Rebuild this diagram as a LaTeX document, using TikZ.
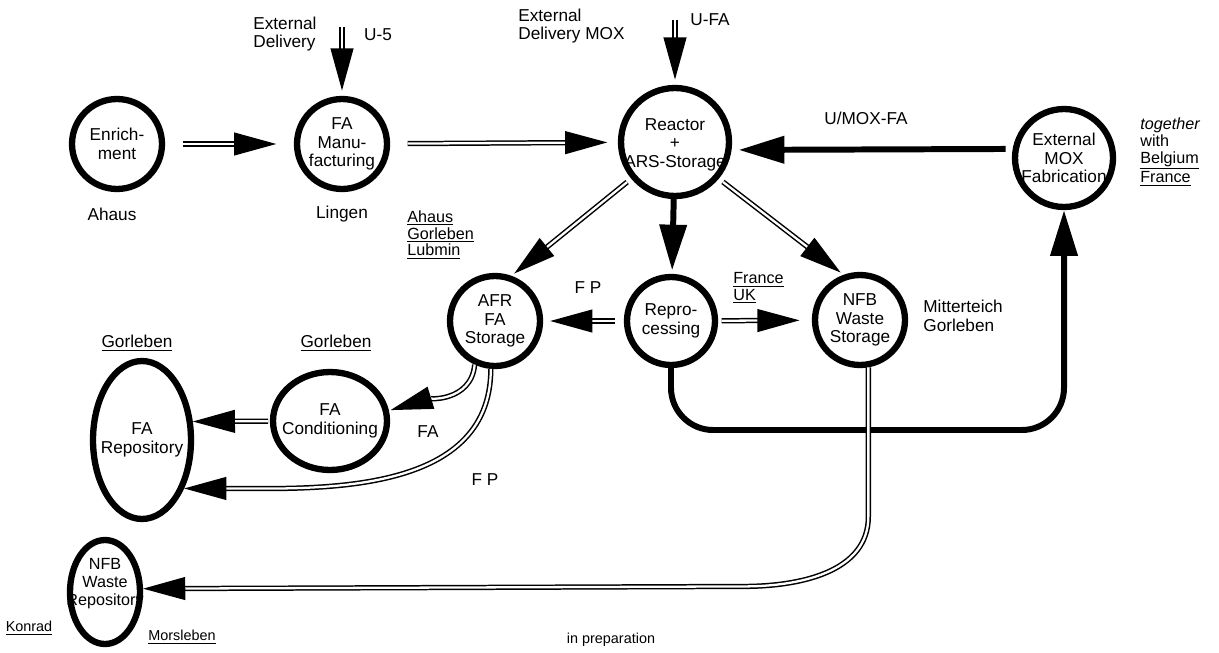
\documentclass[tikz,border=0pt]{standalone}
\usepackage{fontspec}
\setmainfont{Liberation Sans}
\usetikzlibrary{arrows.meta,shapes.geometric}

\begin{document}
\begin{tikzpicture}[x=0.02cm,y=-0.02cm]
\tikzstyle{every node}+=[inner sep=0pt, font=\fontsize{9.8}{10.6}\selectfont]
\tikzstyle{every label}+=[align=center]
\tikzstyle{station}=[circle, draw, line width=3.6pt]
\tikzstyle{pool}=[ellipse, draw, line width=3.6pt]
\tikzstyle{small}=[font=\fontsize{8.2}{9}\selectfont]
\tikzstyle{dbl}=[double, line width=0.85pt, double distance=1.3pt, -{Triangle[length=24pt,width=13pt]}]
\tikzstyle{heavy}=[line width=3.4pt, -{Triangle[length=26pt,width=15pt]}]
\useasboundingbox (0,0) rectangle (1219,652);

\node[station, minimum size=1.8cm, label=center:{Enrich-\\ment}] (enrich) at (117,144) {};
\node[station, minimum size=1.8cm, label=center:{FA\\Manu-\\facturing}] (fam) at (342,144) {};
\node[station, minimum size=2.16cm, label={[yshift=-1.5pt]center:{Reactor\\+\\ARS-Storage}}] (reactor) at (675,142) {};
\node[station, minimum size=1.96cm, label=center:{External\\MOX\\Fabrication}] (mox) at (1064,158) {};
\node[station, minimum size=1.8cm, label=center:{AFR\\FA\\Storage}] (afr) at (495,321) {};
\node[station, minimum size=1.76cm, label=center:{Repro-\\cessing}] (repro) at (671,321) {};
\node[station, minimum size=1.8cm, label=center:{NFB\\Waste\\Storage}] (nfb) at (860,320) {};
\node[pool, minimum width=2.28cm, minimum height=1.96cm, label=center:{FA\\Conditioning}] (facond) at (330,421) {};
\node[pool, minimum width=1.96cm, minimum height=3.16cm, label=center:{FA\\Repository}] (farep) at (142,440) {};
\node[pool, minimum width=1.4cm, minimum height=2.08cm, label={[yshift=5pt, font=\fontsize{9.2}{10.2}\selectfont]center:{NFB\\Waste\\Repository}}] (nfbrep) at (105,592) {};

\coordinate (u5) at (342,27);
\coordinate (ufa) at (675,20);

\node[align=left, anchor=west] (extdel) at (253,34) {External\\Delivery};
\node (u5lbl) at (378,35) {U-5};
\node[align=left, anchor=west] (extmox) at (518,26) {External\\Delivery MOX};
\node (ufalbl) at (710,20) {U-FA};
\node (umoxlbl) at (866,118) {U/MOX-FA};
\node[align=left, anchor=west, font=\fontsize{9.2}{9.6}\selectfont] (partners) at (1140,152) {\textit{together}\\with\\\underline{Belgium}\\\underline{France}};
\node (ahaus) at (112,214) {Ahaus};
\node (lingen) at (342,214) {Lingen};
\node[align=left, anchor=west, font=\fontsize{9.2}{9.6}\selectfont] (afrsites) at (407,235) {\underline{Ahaus}\\\underline{Gorleben}\\\underline{Lubmin}};
\node (fp1) at (588,288) {F P};
\node[align=left, anchor=west, font=\fontsize{9.2}{9.6}\selectfont] (reprosites) at (733,288) {\underline{France}\\\underline{UK}};
\node[align=left, anchor=west] (nfbsites) at (923,316) {Mitterteich\\Gorleben};
\node (gorl1) at (137,343) {\underline{Gorleben}};
\node (gorl2) at (336,343) {\underline{Gorleben}};
\node (fa) at (428,432) {FA};
\node (fp2) at (485,480) {F P};
\node[small] (konrad) at (29,628) {\underline{Konrad}};
\node[small] (morsleben) at (182,637) {\underline{Morsleben}};
\node[small] (prep) at (611,640) {in preparation};

\draw[dbl, shorten <=10pt, shorten >=10pt] (enrich) -- (fam);
\draw[dbl, shorten <=10pt, shorten >=6pt] (fam) -- (reactor);
\draw[dbl, shorten >=3pt] (u5) -- (fam);
\draw[dbl, shorten >=3pt] (ufa) -- (reactor);
\draw[heavy, shorten <=4pt, shorten >=4pt] (mox.170) -- (reactor.-8);
\draw[heavy, shorten >=2pt] (reactor) -- (repro);
\draw[dbl, shorten <=3pt, shorten >=2pt] (reactor.220) -- (afr.70);
\draw[dbl, shorten <=3pt, shorten >=2pt] (reactor.-40) -- (nfb.110);
\draw[dbl, shorten <=5pt, shorten >=4pt] (repro) -- (afr);
\draw[dbl, shorten <=2pt, shorten >=7pt] (repro) -- (nfb);
\draw[dbl, shorten >=1pt] (afr.245) to[out=-95, in=17] (facond.10);
\draw[dbl] (afr.265) to[out=-90, in=0] (farep.-49);
\draw[dbl, shorten <=1pt] (facond) -- (farep.20);
\draw[heavy, rounded corners=24pt] (repro) -- ++(0,109) -| (mox);
\draw[dbl] (nfb.-80) -- ++(0,149) to[out=-90, in=0] ++(-125,70) -- (nfbrep.5);
\end{tikzpicture}
\end{document}
